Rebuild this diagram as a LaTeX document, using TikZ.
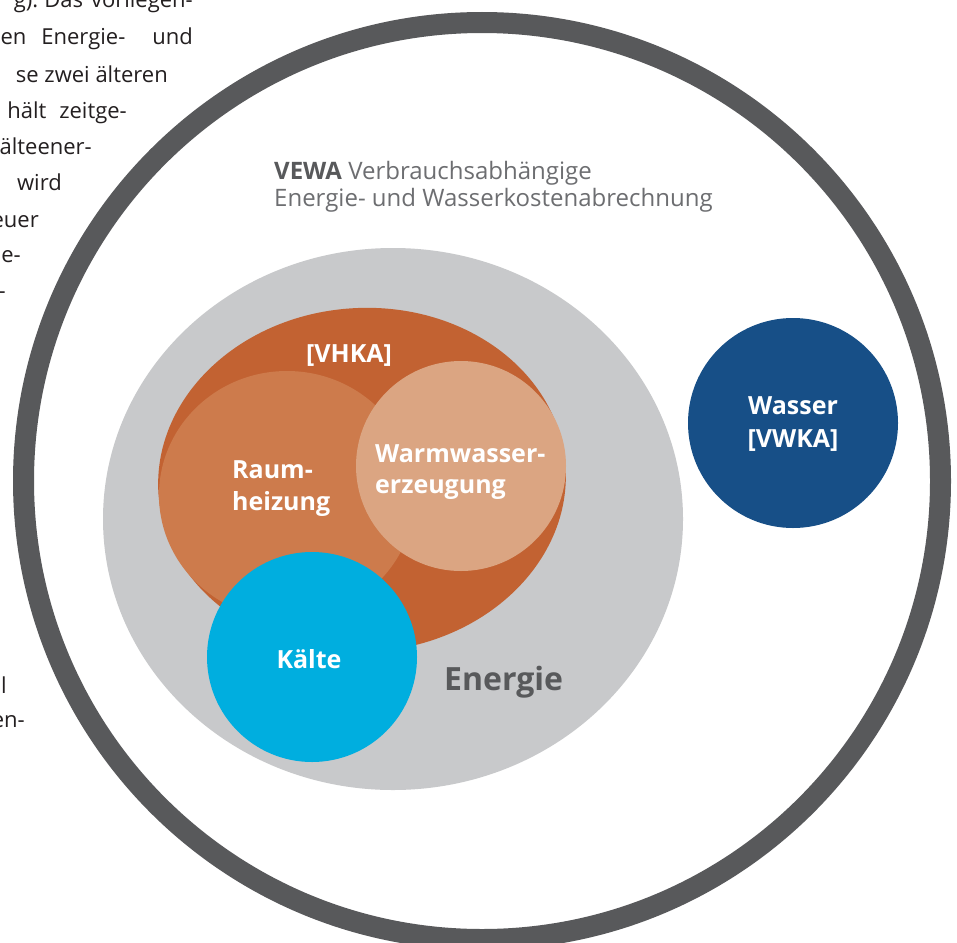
\documentclass[tikz,border=0pt]{standalone}
\usepackage{fontspec}
\setmainfont{Open Sans}
\usetikzlibrary{calc}

\definecolor{ringgrau}{HTML}{58595B}
\definecolor{hellgrau}{HTML}{C8C9CB}
\definecolor{vhkarot}{HTML}{C26232}
\definecolor{raumrot}{HTML}{CD7B4C}
\definecolor{wwrot}{HTML}{DBA582}
\definecolor{kaltblau}{HTML}{00AEDF}
\definecolor{wasserblau}{HTML}{174F87}
\definecolor{textgrau}{HTML}{6D6E71}
\definecolor{seitentext}{HTML}{231F20}

\begin{document}
\begin{tikzpicture}[x=1pt,y=-1pt,
  weiss/.style={text=white,font=\bfseries\fontsize{25}{30}\selectfont,inner sep=0pt},
  seite/.style={text=seitentext,font=\fontsize{22}{26}\selectfont,inner sep=0pt,anchor=base east}]
  \useasboundingbox (0,0) rectangle (957,942);
  \fill[white] (0,0) rectangle (957,942);

      \coordinate (M) at (482,481);   % Ring
      \coordinate (E) at (393,519);   % Energie
      \coordinate (V) at (362,480);   % VHKA
      \coordinate (R) at (287,495);   % Raumheizung
      \coordinate (W) at (461,466);   % Warmwasser
      \coordinate (K) at (312,657);   % Kaelte
      \coordinate (S) at (793,423);   % Wasser

      % SEITENTEXT LINKS
      \node[seite] (z1) at (193,8)   {g).\hspace{6pt}Das\hspace{8pt}vorliegen-};
      \node[seite] (z2) at (193,45)  {en\hspace{15pt}Energie-\hspace{27pt}und};
      \node[seite] (z3) at (168,82)  {se zwei älteren};
      \node[seite] (z4) at (127,118) {hält\hspace{13pt}zeitge-};
      \node[seite] (z5) at (92,154)  {älteener-};
      \node[seite] (z6) at (62,190)  {wird};
      \node[seite] (z7) at (39,227)  {euer};
      \node[seite] (z8) at (21,262)  {e-};
      \node[seite] (z9) at (6,298)   {-};
      \node[seite] (z10) at (7,693)  {il};
      \node[seite] (z11) at (25,727) {en-};

      % RING
      \draw[ringgrau, line width=21pt] (M) circle (458.5pt);

      % KREISE
      \fill[hellgrau] (E) ellipse (290pt and 271pt);
      \fill[vhkarot, rotate around={4:(V)}] (V) ellipse (204pt and 172pt);
      \fill[raumrot] (R) ellipse (128pt and 124pt);
      \fill[wwrot] (W) circle (105pt);
      \fill[kaltblau] (K) circle (105pt);
      \fill[wasserblau] (S) circle (105pt);

      % TITEL
      \node[anchor=base west, inner sep=0pt, text=textgrau, font=\fontsize{24}{28}\selectfont]
        (titel1) at (274,179) {\textbf{\color{ringgrau}VEWA} Verbrauchsabhängige};
      \node[anchor=base west, inner sep=0pt, text=textgrau, font=\fontsize{24}{28}\selectfont]
        (titel2) at (274,206) {Energie- und Wasserkostenabrechnung};

      % BESCHRIFTUNG
      \node[weiss, anchor=base] (vhka) at (349,362) {[VHKA]};
      \node[weiss, anchor=base west] (raum1) at (232,478) {Raum-};
      \node[weiss, anchor=base west] (raum2) at (232,510) {heizung};
      \node[weiss, anchor=base west] (ww1) at (375,462) {Warmwasser-};
      \node[weiss, anchor=base west] (ww2) at (375,493) {erzeugung};
      \node[weiss, anchor=base] (kaelte) at (309,668) {Kälte};
      \node[weiss, anchor=base] (wasser1) at (793,414) {Wasser};
      \node[weiss, anchor=base] (wasser2) at (793,447) {[VWKA]};
      \node[anchor=base west, inner sep=0pt, text=ringgrau, font=\bfseries\fontsize{32}{38}\selectfont]
        (energie) at (444,690) {Energie};
\end{tikzpicture}
\end{document}
